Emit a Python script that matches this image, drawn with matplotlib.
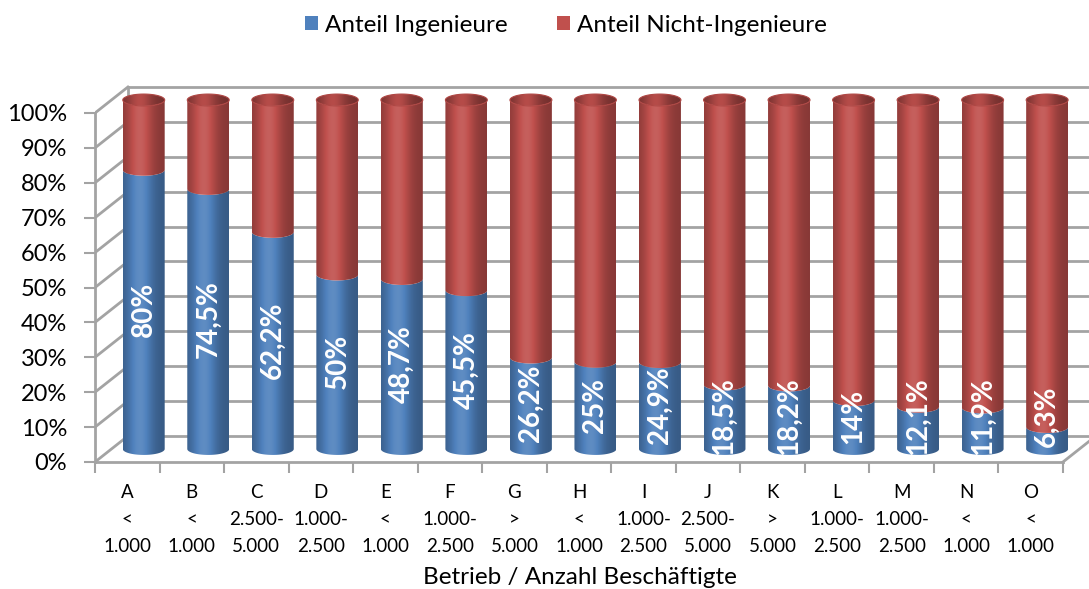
import numpy as np
import matplotlib
matplotlib.use("Agg")
import matplotlib.pyplot as plt
from matplotlib.path import Path
from matplotlib.patches import PathPatch, Rectangle
from matplotlib.colors import to_rgb
from matplotlib.ticker import FixedLocator

plt.rcParams['font.family'] = ['Lato', 'DejaVu Sans']

# --- data -------------------------------------------------------------
betriebe = ["A", "B", "C", "D", "E", "F", "G", "H", "I", "J", "K", "L", "M", "N", "O"]
groessen = ["<\n1.000", "<\n1.000", "2.500-\n5.000", "1.000-\n2.500", "<\n1.000",
            "1.000-\n2.500", ">\n5.000", "<\n1.000", "1.000-\n2.500", "2.500-\n5.000",
            ">\n5.000", "1.000-\n2.500", "1.000-\n2.500", "<\n1.000", "<\n1.000"]
anteil_ing = [80, 74.5, 62.2, 50, 48.7, 45.5, 26.2, 25, 24.9, 18.5, 18.2, 14, 12.1, 11.9, 6.3]
anteil_nicht = [100 - v for v in anteil_ing]
y_ticks = list(range(0, 101, 10))

BLUE = "#4F81BD"
RED = "#C0504D"
GRID = "#A3A3A3"

# --- geometry of the pseudo-3D box (data units) -------------------------
DX, DY = 0.51, 7.45        # depth offset of the back wall
BAR_W = 0.65               # cylinder diameter in category units
ELL_H = 1.7                # half height of the cylinder ellipses (percent units)

fig = plt.figure(figsize=(10.89, 5.89), dpi=100)
ax = fig.add_axes([95 / 1089, (589 - 462) / 589, 994 / 1089, 110 * 3.49 / 589])
n = len(betriebe)
XMIN, XMAX = -0.5, -0.5 + 994 / 64.53
YMIN, YMAX = 0, 110

# --- walls and grid ----------------------------------------------------
xb0 = -0.5 + DX
for v in y_ticks:
    ax.plot([xb0, XMAX + 1], [v + DY, v + DY], color=GRID, lw=2, zorder=1,
            solid_capstyle='butt')
    ax.plot([-0.5, xb0], [v, v + DY], color=GRID, lw=2, zorder=1)
ax.plot([xb0, xb0], [DY, 100 + DY], color=GRID, lw=2, zorder=1)
# floor
ax.plot([n - 0.5, n - 0.5 + DX], [0, DY], color=GRID, lw=2, zorder=1)


# --- cylinders ---------------------------------------------------------
def shade(color, k=1.0, n_px=64):
    t = np.linspace(0, 1, n_px)
    f = 0.70 + 0.40 * np.exp(-((t - 0.40) / 0.30) ** 2)
    f = f * k
    base = np.array(to_rgb(color))
    rgb = np.empty((1, n_px, 3))
    for c in range(3):
        lo = base[c] * f
        hi = base[c] + (1 - base[c]) * (f - 1) * 0.9
        rgb[0, :, c] = np.where(f > 1, hi, lo)
    return np.clip(rgb, 0, 1)


def segment_path(xc, a, ya, yb, b):
    th = np.linspace(np.pi, 2 * np.pi, 40)
    bot = np.column_stack([xc + a * np.cos(th), ya + b * np.sin(th)])
    top = np.column_stack([xc + a * np.cos(th[::-1]), yb + b * np.sin(th[::-1])])
    verts = np.vstack([bot, top, bot[:1]])
    codes = [Path.MOVETO] + [Path.LINETO] * (len(verts) - 2) + [Path.CLOSEPOLY]
    return Path(verts, codes)


def ellipse_path(xc, a, yc, b):
    th = np.linspace(0, 2 * np.pi, 80)
    verts = np.column_stack([xc + a * np.cos(th), yc + b * np.sin(th)])
    codes = [Path.MOVETO] + [Path.LINETO] * (len(verts) - 2) + [Path.CLOSEPOLY]
    return Path(verts, codes)


def gradient_fill(path, color, extent, k=1.0, z=3):
    patch = PathPatch(path, facecolor='none', edgecolor='none', zorder=z)
    ax.add_patch(patch)
    im = ax.imshow(shade(color, k), extent=extent, aspect='auto',
                   interpolation='bilinear', zorder=z, origin='lower')
    im.set_clip_path(patch)


a = BAR_W / 2
for i, (v, w) in enumerate(zip(anteil_ing, anteil_nicht)):
    xc = i + DX / 2
    y0 = DY / 2
    yv = y0 + v
    y1 = y0 + v + w
    ext = (xc - a, xc + a, y0 - ELL_H, y1 + ELL_H)
    gradient_fill(segment_path(xc, a, y0, yv, ELL_H), BLUE, ext)
    gradient_fill(segment_path(xc, a, yv, y1, ELL_H), RED, ext)
    # top cap
    gradient_fill(ellipse_path(xc, a, y1, ELL_H), RED, ext, k=0.86, z=4)
    ax.add_patch(PathPatch(ellipse_path(xc, a, y1, ELL_H), facecolor='none',
                           edgecolor='#B04744', lw=0.8, zorder=4))

    label = f"{v:g}".replace('.', ',') + '%'
    ax.text(xc, y0 + max(v / 2, 9.3), label, rotation=90, ha='center', va='center',
            color='white', fontsize=20, fontweight='bold', zorder=6)

# --- axes --------------------------------------------------------------
ax.set_xlim(XMIN, XMAX)
ax.set_ylim(YMIN, YMAX)
for s in ['top', 'right']:
    ax.spines[s].set_visible(False)
for s in ['left', 'bottom']:
    ax.spines[s].set_color(GRID)
    ax.spines[s].set_linewidth(2)
    ax.spines[s].set_zorder(1)
ax.spines['left'].set_bounds(0, 100)
ax.spines['bottom'].set_bounds(-0.5, n - 0.5)

ax.set_yticks(y_ticks)
ax.set_yticklabels([f"{t}%" for t in y_ticks])
ax.tick_params(axis='y', length=8, width=1.5, color=GRID, labelsize=17, pad=12)

ax.set_xticks(range(n))
ax.set_xticklabels([f"{b}\n{g}" for b, g in zip(betriebe, groessen)],
                   fontsize=13.5, linespacing=1.7)
ax.xaxis.set_minor_locator(FixedLocator(np.arange(-0.5, n, 1.0)))
ax.tick_params(axis='x', which='major', length=0, pad=16)
ax.tick_params(axis='x', which='minor', length=8, width=1.5, color=GRID)
ax.set_facecolor('none')

fig.text(580 / 1089, 1 - 578 / 589, "Betrieb / Anzahl Beschäftigte",
         ha='center', va='center', fontsize=17.5)

handles = [Rectangle((0, 0), 1, 1, facecolor=BLUE, edgecolor='none'),
           Rectangle((0, 0), 1, 1, facecolor=RED, edgecolor='none')]
fig.legend(handles, ["Anteil Ingenieure", "Anteil Nicht-Ingenieure"],
           loc='center', bbox_to_anchor=(566 / 1089, 1 - 25 / 589), ncol=2,
           frameon=False, fontsize=17.5, handlelength=0.55, handleheight=0.55,
           handletextpad=0.3, columnspacing=2.0)

fig.savefig("out.png", dpi=100)
